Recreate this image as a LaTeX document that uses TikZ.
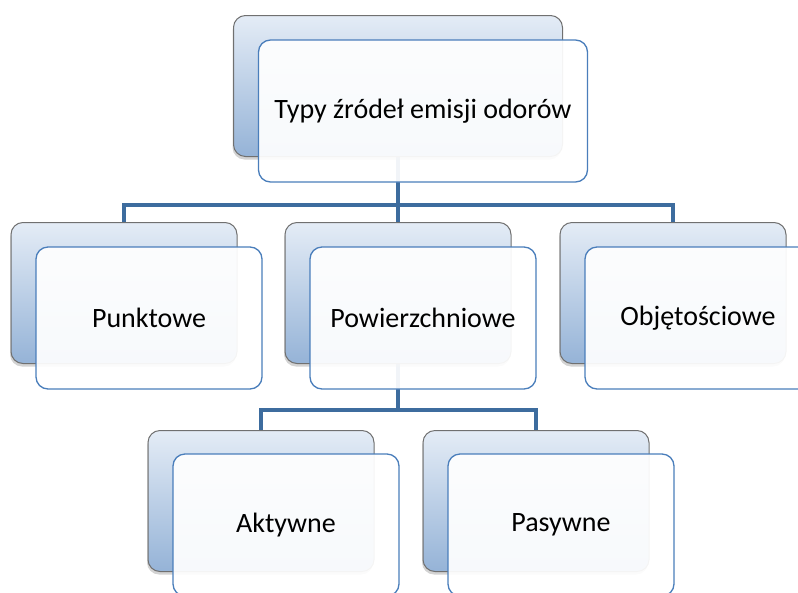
\documentclass[tikz,border=0pt]{standalone}
\usepackage{fontspec}
\setmainfont{Carlito}
\usetikzlibrary{shadows,backgrounds}
\definecolor{backtop}{HTML}{E4ECF6}
\definecolor{backbot}{HTML}{95B3D7}
\definecolor{backline}{HTML}{707070}
\definecolor{frontline}{HTML}{4A7EBB}
\definecolor{linkblue}{HTML}{3D6C9E}
\begin{document}
\begin{tikzpicture}[x=1pt, y=1pt,
    back/.style={draw=backline, line width=1pt, rounded corners=12pt, top color=backtop, bottom color=backbot,
        minimum width=226pt, minimum height=141pt, inner sep=0pt,
        drop shadow={shadow xshift=-1pt, shadow yshift=-3pt, opacity=0.35}},
    front/.style={draw=frontline, line width=1.3pt, rounded corners=12pt, fill=white, fill opacity=0.93, text opacity=1,
        minimum width=226pt, minimum height=142pt, inner sep=0pt, font=\fontsize{28}{32}\selectfont},
    link/.style={draw=linkblue, line width=4pt}]
    \useasboundingbox (0,0) rectangle (798,-592);

    % Root
    \node[back, minimum width=329pt] (rootB) at (398,-86) {};
    \node[front, minimum width=329pt] (root) at (423,-111) {Typy źródeł emisji odorów};

    % Tier 1
    \node[back] (punktB) at (124,-293) {};
    \node[front] (punkt) at (149,-318) {Punktowe};
    \node[back] (powB) at (398,-293) {};
    \node[front] (pow) at (423,-318) {Powierzchniowe};
    \node[back] (objB) at (673,-293) {};
    \node[front] (obj) at (698,-318) {Objętościowe};

    % Tier 2
    \node[back] (aktB) at (261,-501) {};
    \node[front] (akt) at (286,-525) {Aktywne};
    \node[back] (pasB) at (536,-501) {};
    \node[front] (pas) at (561,-525) {Pasywne};

    % Connections
    \begin{scope}[on background layer]
        \draw[link] (rootB.south) -- ++(0,-48) -| (punktB.north);
        \draw[link] (rootB.south) -- (powB.north);
        \draw[link] (rootB.south) -- ++(0,-48) -| (objB.north);
        \draw[link] (powB.south) -- ++(0,-46) -| (aktB.north);
        \draw[link] (powB.south) -- ++(0,-46) -| (pasB.north);
    \end{scope}
\end{tikzpicture}
\end{document}
